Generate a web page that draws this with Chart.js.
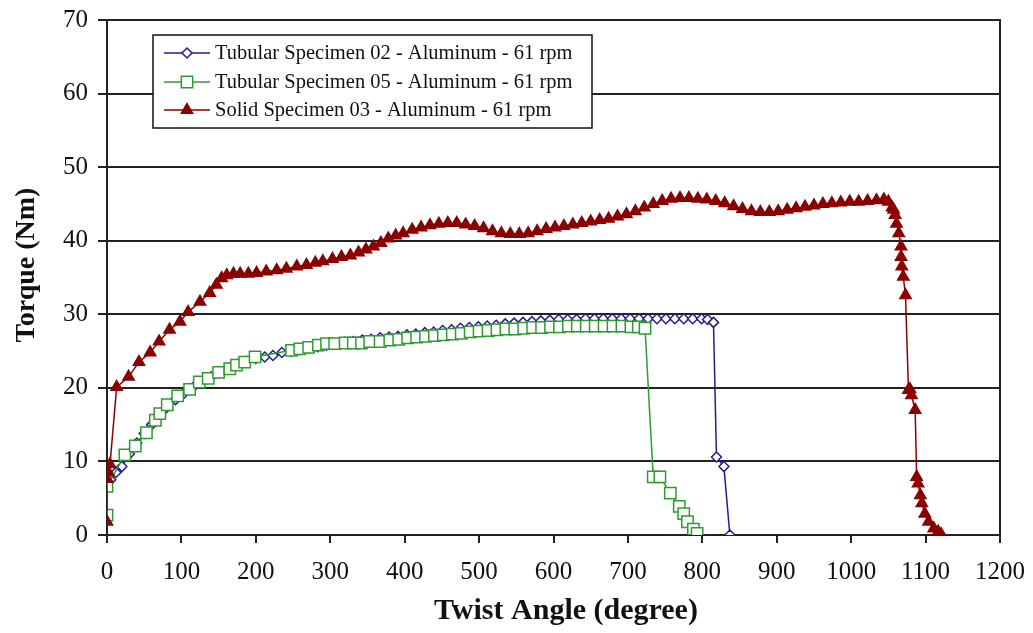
<!DOCTYPE html>
<html>
<head>
<meta charset="utf-8">
<script src="https://cdn.jsdelivr.net/npm/chart.js@4.4.1/dist/chart.umd.min.js"></script>
<style>
html,body{margin:0;padding:0;background:#fff;}
#wrap{width:1033px;height:633px;position:relative;}
</style>
</head>
<body>
<div id="wrap"><canvas id="c" width="1033" height="633"></canvas></div>
<script>
// ---- Data ----
const xTicks = [0,100,200,300,400,500,600,700,800,900,1000,1100,1200];
const yTicks = [0,10,20,30,40,50,60,70];

const labels = [
  "Tubular Specimen 02 - Aluminum - 61 rpm",
  "Tubular Specimen 05 - Aluminum - 61 rpm",
  "Solid Specimen 03 - Aluminum - 61 rpm"
];
const xTitle = "Twist Angle (degree)";
const yTitle = "Torque (Nm)";

const tube02Angle = [0,0,5,12,20,30,40,50,60,70,80,92,104,116,128,140,152,164,176,188,200,212,223,235,247,259,271,283,295,307,319,331,343,355,367,379,391,403,415,427,439,451,463,475,487,499,511,523,535,547,559,571,583,595,607,619,631,643,655,667,679,691,703,715,727,739,751,763,775,787,799,807,815,819,829,837];
const tube02Torque = [2.5,6.8,7.5,8.5,9.3,11,12.5,13.8,15,16.2,17.3,18.4,19.3,20.1,20.8,21.5,22.1,22.7,23.2,23.6,24,24.2,24.4,24.8,25,25.2,25.4,25.6,25.8,26,26.2,26.3,26.5,26.6,26.8,26.9,27,27.2,27.3,27.5,27.6,27.8,27.9,28.1,28.2,28.3,28.4,28.5,28.7,28.8,28.9,29,29.1,29.2,29.3,29.3,29.3,29.4,29.4,29.4,29.4,29.4,29.4,29.4,29.4,29.4,29.4,29.4,29.4,29.4,29.4,29.3,28.9,10.6,9.3,0];

const tube05Angle = [0,0,24,38,53,65,71,81,95,111,124,136,150,165,174,185,199,248,259,271,284,295,306,320,331,342,353,367,380,392,404,416,428,440,452,464,476,488,500,512,524,536,548,560,572,584,596,608,620,632,644,656,668,680,692,704,714,723,734,743,757,769,775,780,788,793];
const tube05Torque = [2.7,6.6,10.9,12.1,13.9,15.6,16.5,17.7,18.9,19.8,20.8,21.3,22.1,22.6,23.1,23.5,24.2,25.1,25.3,25.5,25.8,26,26,26.1,26.1,26.1,26.3,26.3,26.5,26.6,26.8,26.9,27,27.1,27.2,27.3,27.4,27.6,27.7,27.8,27.9,28,28,28.1,28.2,28.2,28.3,28.3,28.4,28.4,28.4,28.4,28.4,28.4,28.4,28.3,28.3,28.1,7.9,7.9,5.7,3.9,2.9,1.8,0.8,0.2];

const solid03Angle = [0,0,2,4,13,29,43,58,70,84,98,109,125,138,147,154,161,170,179,190,201,214,228,241,255,268,280,290,303,315,327,338,348,358,368,378,388,398,410,422,434,446,458,470,482,494,506,518,530,542,554,566,578,590,602,614,626,638,650,662,674,686,698,710,722,734,746,758,770,782,794,806,818,830,842,854,866,878,890,902,914,926,938,950,962,974,986,998,1010,1022,1034,1044,1050,1055,1057,1059,1061,1064,1067,1067,1068,1070,1073,1077,1079,1081,1086,1088,1090,1093,1095,1099,1104,1111,1117,1121];
const solid03Torque = [1.8,7.6,8.5,9.6,20.1,21.5,23.5,24.8,26.3,27.9,29,30.3,31.7,32.9,34,34.9,35.3,35.5,35.5,35.5,35.6,35.8,36,36.2,36.5,36.7,37,37.2,37.5,37.8,38,38.4,38.8,39.2,39.7,40.3,40.7,41,41.5,41.8,42.1,42.3,42.4,42.4,42.2,42,41.7,41.3,41,40.9,40.9,41,41.3,41.6,41.8,42,42.2,42.4,42.6,42.8,43,43.3,43.6,44,44.5,45,45.4,45.7,45.8,45.8,45.7,45.6,45.4,45.1,44.7,44.3,44,43.9,43.9,44,44.2,44.4,44.6,44.8,45,45.1,45.2,45.3,45.3,45.4,45.5,45.6,45.3,44.5,44.2,43.5,42.3,41,39.2,37.8,36.5,35.1,32.6,19.7,19.8,19,17,7.9,7,5.4,4.3,2.9,1.8,0.9,0.45,0.1];

// ---- Build datasets ----
function pts(xs, ys){ return xs.map((x,i)=>({x:x, y:ys[i]})); }

const styles = [
  {color:'#1f1f8f', point:'rectRot', radius:5, fill:'#ffffff'},
  {color:'#2f9a2f', point:'rect', radius:8, fill:'#ffffff'},
  {color:'#8b0000', point:'triangle', radius:6.5, fill:'#8b0000'}
];

const datasets = [
  {label:labels[0], data:pts(tube02Angle,tube02Torque)},
  {label:labels[1], data:pts(tube05Angle,tube05Torque)},
  {label:labels[2], data:pts(solid03Angle,solid03Torque)}
].map((d,i)=>Object.assign(d,{
  borderColor:styles[i].color,
  backgroundColor:styles[i].fill,
  pointBackgroundColor:styles[i].fill,
  pointBorderColor:styles[i].color,
  pointStyle:styles[i].point,
  pointRadius:styles[i].radius,
  pointBorderWidth:1.5,
  borderWidth:1.5,
  tension:0,
  fill:false
}));
datasets[0].order = 3; datasets[1].order = 2; datasets[2].order = 1;

const serif = "'Liberation Serif','Times New Roman',serif";

const frame = {
  id:'frame',
  afterDraw(chart){
    const {ctx, chartArea:a} = chart;
    ctx.save();
    ctx.strokeStyle = '#222';
    ctx.lineWidth = 2;
    ctx.beginPath();
    ctx.moveTo(a.left, a.top); ctx.lineTo(a.right, a.top); ctx.lineTo(a.right, a.bottom);
    ctx.stroke();
    // axis titles
    ctx.fillStyle = '#111';
    ctx.textAlign = 'center';
    ctx.textBaseline = 'middle';
    ctx.font = 'bold 30px ' + serif;
    ctx.fillText(xTitle, 566, 611);
    ctx.save();
    ctx.translate(27, 265);
    ctx.rotate(-Math.PI/2);
    ctx.font = 'bold 28px ' + serif;
    ctx.fillText(yTitle, 0, 0);
    ctx.restore();
    // legend box
    const bx = 153, by = 35, bw = 439, bh = 93;
    ctx.fillStyle = '#fff';
    ctx.fillRect(bx, by, bw, bh);
    ctx.strokeStyle = '#111';
    ctx.lineWidth = 1.5;
    ctx.strokeRect(bx, by, bw, bh);
    const rows = [53, 82, 110];
    chart.data.datasets.forEach((ds, i) => {
      const y = rows[i];
      ctx.strokeStyle = ds.borderColor;
      ctx.lineWidth = 1.5;
      ctx.beginPath(); ctx.moveTo(164, y); ctx.lineTo(210, y); ctx.stroke();
      ctx.fillStyle = ds.pointBackgroundColor;
      ctx.strokeStyle = ds.pointBorderColor;
      ctx.lineWidth = 1.5;
      Chart.helpers.drawPoint(ctx, {pointStyle: ds.pointStyle, radius: ds.pointRadius, borderWidth: 1.5}, 187, y);
      ctx.fillStyle = '#111';
      ctx.font = '20.5px ' + serif;
      ctx.textBaseline = 'middle';
      ctx.textAlign = 'left';
      ctx.fillText(ds.label, 215, y + 1);
    });
    ctx.restore();
  }
};

new Chart(document.getElementById('c'), {
  type:'line',
  data:{datasets:datasets},
  options:{
    responsive:false,
    animation:false,
    devicePixelRatio:1,
    layout:{padding:{left:0, right:33, top:20, bottom:0}},
    plugins:{legend:{display:false}, tooltip:{enabled:false}},
    scales:{
      x:{
        type:'linear', min:0, max:1200,
        afterFit(s){ s.height = 98; s.paddingLeft = 0; s.paddingRight = 0; },
        afterBuildTicks(s){ s.ticks = xTicks.map(v=>({value:v})); },
        ticks:{color:'#111', font:{family:serif, size:25}, padding:14, maxRotation:0, autoSkip:false, callback:(v)=>String(v)},
        grid:{drawOnChartArea:false, drawTicks:true, tickLength:8, color:'#222', lineWidth:2},
        border:{display:true, color:'#222', width:2}
      },
      y:{
        min:0, max:70,
        afterFit(s){ s.width = 107; s.paddingTop = 0; s.paddingBottom = 0; },
        afterBuildTicks(s){ s.ticks = yTicks.map(v=>({value:v})); },
        ticks:{color:'#111', font:{family:serif, size:25}, padding:10, callback:(v)=>String(v)},
        grid:{drawOnChartArea:true, drawTicks:true, tickLength:9, color:'#222', lineWidth:2},
        border:{display:true, color:'#222', width:2}
      }
    }
  },
  plugins:[frame]
});
</script>
</body>
</html>
